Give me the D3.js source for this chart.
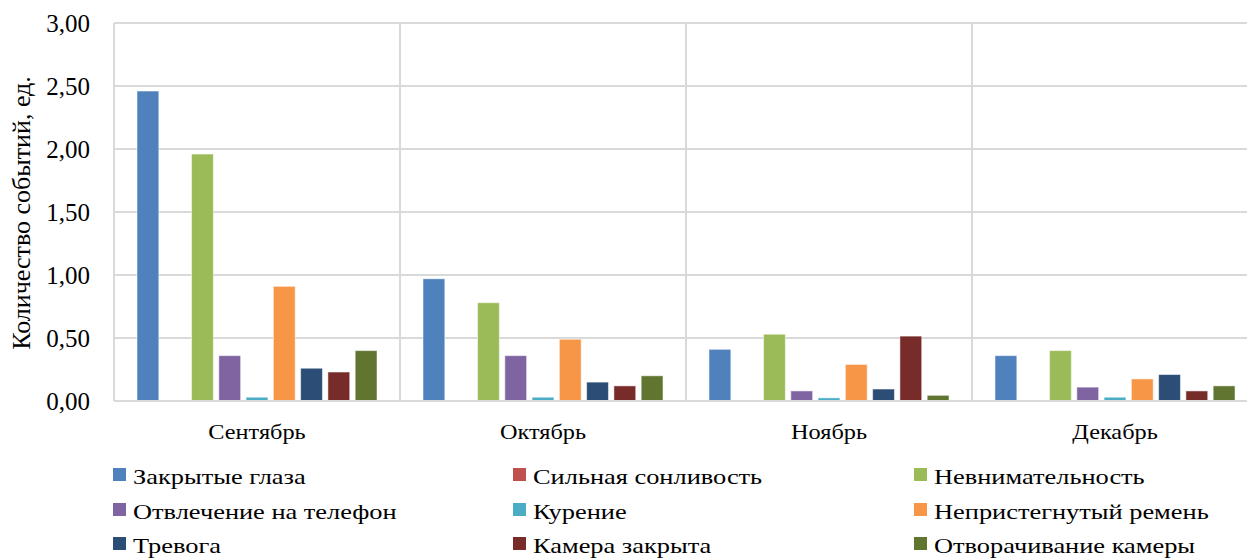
<!DOCTYPE html>
<html>
<head>
<meta charset="utf-8">
<script src="https://cdn.jsdelivr.net/npm/d3@7"></script>
<style>
    body { margin: 0; background: #fff; }
</style>
</head>
<body>
<svg id="drawing_region"></svg>
<script>
const months = ['Сентябрь', 'Октябрь', 'Ноябрь', 'Декабрь'];
const series = ['Закрытые глаза', 'Сильная сонливость', 'Невнимательность',
                'Отвлечение на телефон', 'Курение', 'Непристегнутый ремень',
                'Тревога', 'Камера закрыта', 'Отворачивание камеры'];
const colors = ['#4F81BD', '#C0504D', '#9BBB59', '#8064A2', '#4BACC6',
                '#F79646', '#2C4D75', '#772C2A', '#5F7530'];
// values per series, one entry per month
const closed_eyes = [2.46, 0.97, 0.41, 0.36];
const sleepy      = [0.00, 0.00, 0.00, 0.00];
const inattention = [1.96, 0.78, 0.53, 0.40];
const phone       = [0.36, 0.36, 0.08, 0.11];
const smoking     = [0.03, 0.03, 0.025, 0.03];
const belt        = [0.91, 0.49, 0.29, 0.175];
const alarm       = [0.26, 0.15, 0.095, 0.21];
const cam_closed  = [0.23, 0.12, 0.515, 0.08];
const cam_turned  = [0.40, 0.20, 0.045, 0.12];
const yticks = [0, 0.5, 1, 1.5, 2, 2.5, 3];

const values = [closed_eyes, sleepy, inattention, phone, smoking, belt, alarm, cam_closed, cam_turned];

const FONT = '"Liberation Serif", "Times New Roman", serif';

var config = {
    parent: '#drawing_region',
    width: 1247,
    height: 559,
    margin: {top:23, right:-11, bottom:158, left:114},
};

class BarChart {
    constructor(config) {
        this.config = config;
        this.init();
    }
    init() {
        let self = this;
        self.svg = d3.select(self.config.parent)
            .attr('width', self.config.width)
            .attr('height', self.config.height)
            .attr('font-family', FONT);
        self.chart = self.svg.append('g')
            .attr('transform', `translate(${self.config.margin.left}, ${self.config.margin.top})`);
        self.inner_width = self.config.width - self.config.margin.left - self.config.margin.right;
        self.inner_height = self.config.height - self.config.margin.top - self.config.margin.bottom;

        self.xscale = d3.scaleBand().domain(months).range([0, self.inner_width]);
        self.x1 = d3.scaleBand().domain(series)
            .range([23, self.xscale.bandwidth() - 23])
            .paddingInner(0.2);
        self.yscale = d3.scaleLinear().domain([0, 3]).range([self.inner_height, 0]);
    }
    render() {
        let self = this;
        const grid = '#d9d9d9';

        // horizontal gridlines
        self.chart.selectAll('.hgrid')
            .data(yticks)
            .join('line')
            .attr('x1', 0).attr('x2', self.inner_width)
            .attr('y1', d => self.yscale(d)).attr('y2', d => self.yscale(d))
            .attr('stroke', grid).attr('stroke-width', 2);

        // vertical category separators
        self.chart.selectAll('.vgrid')
            .data(months.concat(['end']))
            .join('line')
            .attr('x1', (d, i) => i * self.xscale.step())
            .attr('x2', (d, i) => i * self.xscale.step())
            .attr('y1', 0).attr('y2', self.inner_height)
            .attr('stroke', grid).attr('stroke-width', 2);

        // bars
        const groups = self.chart.selectAll('.month')
            .data(months)
            .join('g')
            .attr('transform', d => `translate(${self.xscale(d)},0)`);
        groups.selectAll('rect')
            .data((m, mi) => series.map((s, si) => ({s: s, si: si, v: values[si][mi]})))
            .join('rect')
            .attr('x', d => self.x1(d.s))
            .attr('width', self.x1.bandwidth())
            .attr('y', d => self.yscale(d.v))
            .attr('height', d => self.yscale(0) - self.yscale(d.v))
            .attr('fill', d => colors[d.si])
            .attr('stroke', '#fff').attr('stroke-opacity', 0.5).attr('stroke-width', 1);

        // baseline on top of bars
        self.chart.append('line')
            .attr('x1', 0).attr('x2', self.inner_width)
            .attr('y1', self.yscale(0)).attr('y2', self.yscale(0))
            .attr('stroke', grid).attr('stroke-width', 2);

        // y tick labels
        self.chart.selectAll('.ylab')
            .data(yticks)
            .join('text')
            .attr('x', -24)
            .attr('y', d => self.yscale(d))
            .attr('dy', '0.35em')
            .attr('text-anchor', 'end')
            .attr('font-size', 25)
            .text(d => d3.format('.2f')(d).replace('.', ','));

        // category labels (text in the source is drawn a bit wider)
        self.chart.selectAll('.xlab')
            .data(months)
            .join('text')
            .attr('transform', d => `translate(${self.xscale(d) + self.xscale.bandwidth() / 2}, ${self.inner_height + 38}) scale(1.13, 1)`)
            .attr('text-anchor', 'middle')
            .attr('font-size', 21.5)
            .text(d => d);

        // y axis title
        self.svg.append('text')
            .attr('transform', `translate(30, 213) rotate(-90)`)
            .attr('text-anchor', 'middle')
            .attr('font-size', 26)
            .text('Количество событий, ед.');

        // legend
        const colx = [113, 513, 914];
        const rowy = [474.5, 509.5, 543.5];
        const leg = self.svg.selectAll('.legend')
            .data(series)
            .join('g')
            .attr('transform', (d, i) => `translate(${colx[i % 3]}, ${rowy[Math.floor(i / 3)]})`);
        leg.append('rect')
            .attr('x', 0).attr('y', -6.5)
            .attr('width', 13).attr('height', 13)
            .attr('fill', (d, i) => colors[i]);
        leg.append('text')
            .attr('transform', 'translate(20, 9.5) scale(1.2, 1)')
            .attr('font-size', 22)
            .text(d => d);
    }
}

const bar_chart = new BarChart(config);
bar_chart.render();
</script>
</body>
</html>
